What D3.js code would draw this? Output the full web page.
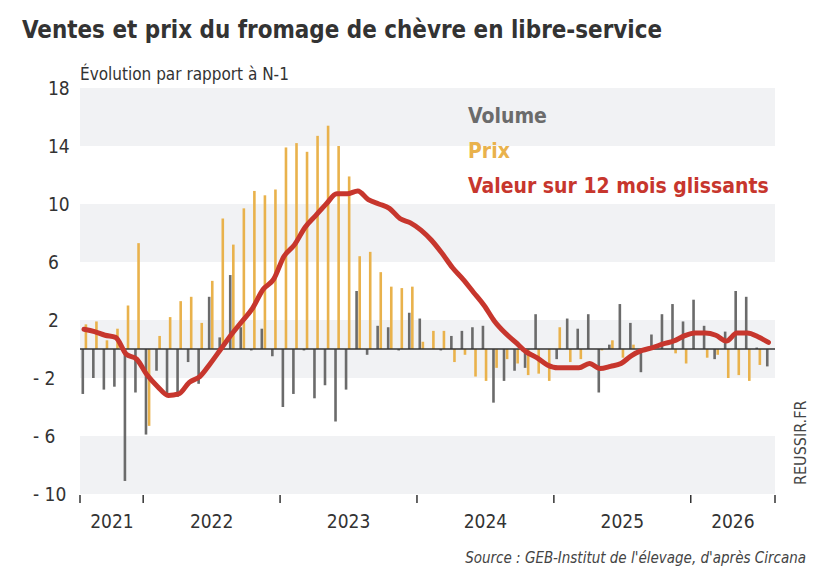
<!DOCTYPE html>
<html><head><meta charset="utf-8">
<script src="https://cdn.jsdelivr.net/npm/d3@7"></script>
<style>body{margin:0;background:#fff}</style></head>
<body><svg id="c" width="816" height="576"></svg>
<script>
const volume=[-3.1,-2,-2.8,-2.6,-9.1,-3,-5.9,-1.5,-3.1,-3.3,-0.9,-2.4,3.6,0.8,5.1,1.5,-0.1,1.4,-0.5,-4,-3.1,-0.1,-3.4,-2.5,-5,-2.8,4,-0.4,1.6,1.5,-0.1,2.5,2.1,
0,-0.1,0.9,1.25,1.5,1.6,-3.7,-2.2,-1.5,-1.3,2.4,0,-0.7,2.1,1.4,2.4,-3,0.3,3.1,1.8,-1.6,1,2.4,3.1,1.9,3.4,1.6,-0.7,1.2,4,3.6,0.1,-1.2];
const prix=[1.7,1.9,0.6,1.4,3,7.3,-5.3,0.9,2.2,3.3,3.6,1.8,4.7,9,7.2,9.7,10.9,10.6,11,13.9,14.2,13.6,14.7,15.4,14,11.9,6.4,6.7,5.3,4.3,4.2,4.3,0.5,
1.25,1.25,-0.9,-0.4,-1.9,-2.2,-1.3,-0.7,-1,-1.8,-1.7,-2.2,1.5,-0.9,-0.7,0,-0.1,0.6,-0.6,0.3,0,0.1,0,-0.3,-1,0,-0.6,-0.4,-2,-1.8,-2.2,-1.1,0];
const valeur=[1.36,1.2,0.95,0.8,-0.35,-0.7,-1.8,-2.6,-3.2,-3.1,-2.3,-1.9,-1.0,0,1.0,1.9,2.8,4.1,4.8,6.4,7.2,8.4,9.2,10,10.7,10.7,10.9,10.3,10,9.7,9.0,8.7,8.2,
7.5,6.6,5.6,4.8,3.9,3.0,1.9,1.1,0.45,-0.2,-0.6,-1.1,-1.3,-1.3,-1.3,-1.0,-1.35,-1.2,-1.0,-0.45,-0.1,0.1,0.35,0.55,0.9,1.1,1.1,0.95,0.55,1.1,1.1,0.85,0.45];
const yearLabels=["2021","2022","2023","2024","2025","2026"];
const yearBreaks=[0,6,19,32,45,58,66]; // period index boundaries
const yTicks=[18,14,10,6,2,-2,-6,-10];

const svg=d3.select("#c");
const font="'DejaVu Sans Condensed','DejaVu Sans',sans-serif";
const L=80,R=775;
const x=d3.scaleLinear().domain([0,volume.length]).range([L,R]);
const y=d3.scaleLinear().domain([-10,18]).range([494,88]);
for(let v=-10;v<18;v+=8){
  svg.append("rect").attr("x",L).attr("width",R-L).attr("y",y(v+4)).attr("height",y(v)-y(v+4)).attr("fill","#f1f2f4");
}
svg.append("rect").attr("x",L).attr("width",R-L).attr("y",y(2)).attr("height",y(-2)-y(2)).attr("fill","#f1f2f4");
svg.append("g").selectAll("text").data(yTicks).join("text")
 .attr("x",d=>d<0?33:48).attr("y",d=>y(d)+7).attr("font-family",font).attr("font-size",19).attr("fill","#333")
 .text(d=>d<0?"- "+Math.abs(d):d);
const bw=2.6;
svg.append("g").selectAll("rect").data(volume).join("rect")
 .attr("x",(d,i)=>x(i)+1.5).attr("width",bw).attr("y",d=>y(Math.max(0,d))).attr("height",d=>Math.abs(y(d)-y(0))).attr("fill","#6b6b6b");
svg.append("g").selectAll("rect").data(prix).join("rect")
 .attr("x",(d,i)=>x(i)+4.6).attr("width",bw).attr("y",d=>y(Math.max(0,d))).attr("height",d=>Math.abs(y(d)-y(0))).attr("fill","#e9b24c");
svg.append("line").attr("x1",L).attr("x2",R).attr("y1",y(0)).attr("y2",y(0)).attr("stroke","#333").attr("stroke-width",1.5);
svg.append("path").datum(valeur).attr("fill","none").attr("stroke","#c7362d").attr("stroke-width",5).attr("stroke-linejoin","round").attr("stroke-linecap","round")
 .attr("d",d3.line().x((d,i)=>x(i)+4).y(d=>y(d)).curve(d3.curveMonotoneX));
svg.append("g").selectAll("line").data(yearBreaks).join("line")
 .attr("x1",d=>x(d)).attr("x2",d=>x(d)).attr("y1",495).attr("y2",503).attr("stroke","#333").attr("stroke-width",1.5);
svg.append("g").selectAll("text").data(yearLabels).join("text")
 .attr("x",(d,i)=>i==0?112:(x(yearBreaks[i])+x(yearBreaks[i+1]))/2).attr("y",528).attr("text-anchor","middle")
 .attr("font-family",font).attr("font-size",19).attr("fill","#333").text(d=>d);
svg.append("text").attr("x",22).attr("y",38).attr("font-family",font).attr("font-weight","bold").attr("font-size",25).attr("fill","#333")
 .attr("textLength",640).attr("lengthAdjust","spacingAndGlyphs")
 .text("Ventes et prix du fromage de chèvre en libre-service");
svg.append("text").attr("x",80).attr("y",80).attr("font-family",font).attr("font-size",17).attr("fill","#333").text("Évolution par rapport à N-1");
const leg=[["Volume","#6b6b6b"],["Prix","#e9b24c"],["Valeur sur 12 mois glissants","#c7362d"]];
svg.append("g").selectAll("text").data(leg).join("text").attr("x",468).attr("y",(d,i)=>123+i*35)
 .attr("font-family",font).attr("font-weight","bold").attr("font-size",21).attr("fill",d=>d[1]).text(d=>d[0]);
svg.append("text").attr("transform","translate(806,485) rotate(-90)").attr("font-family",font).attr("font-size",16).attr("fill","#444").text("REUSSIR.FR");
svg.append("text").attr("x",806).attr("y",563).attr("text-anchor","end").attr("font-family",font).attr("font-style","italic").attr("font-size",15).attr("fill","#444")
 .text("Source : GEB-Institut de l'élevage, d'après Circana");
</script></body></html>
